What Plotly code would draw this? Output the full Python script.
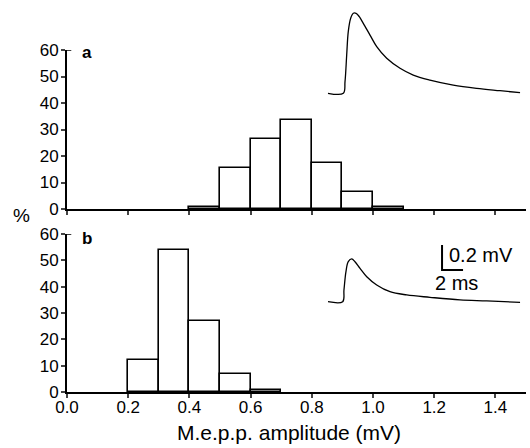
import plotly.graph_objects as go

# Histogram data (bin left edges in mV, % of events)
bin_left_a = [0.4, 0.5, 0.6, 0.7, 0.8, 0.9, 1.0]
pct_a = [0.8, 15.5, 26.3, 33.5, 17.3, 6.3, 0.8]
bin_left_b = [0.2, 0.3, 0.4, 0.5, 0.6]
pct_b = [12, 54, 27, 7, 0.8]
bin_width = 0.1
x_ticks = [0.0, 0.2, 0.4, 0.6, 0.8, 1.0, 1.2, 1.4]
y_ticks = [0, 10, 20, 30, 40, 50, 60]

# Inset m.e.p.p. traces (time in ms, amplitude in mV)
t_a = [0, 1.46, 1.62, 1.78, 1.93, 2.16, 2.41, 2.67, 2.98, 3.36, 4.0, 4.64, 5.59, 6.86, 8.12, 9.71, 11.93, 14.16, 16.38, 18.29]
v_a = [0, 0, 0.093, 0.306, 0.493, 0.6, 0.64, 0.64, 0.613, 0.56, 0.466, 0.373, 0.28, 0.2, 0.146, 0.106, 0.066, 0.04, 0.021, 0.005]
t_b = [0, 1.4, 1.52, 1.71, 1.93, 2.26, 2.57, 3.05, 3.69, 4.64, 5.9, 7.5, 9.71, 12.57, 15.11, 18.29]
v_b = [0, 0, 0.094, 0.24, 0.32, 0.342, 0.32, 0.267, 0.2, 0.134, 0.08, 0.054, 0.035, 0.014, 0.006, -0.005]
scale_t = 2.0   # ms
scale_v = 0.2   # mV

FONT = "Liberation Sans, Arial, Helvetica, sans-serif"
fig = go.Figure()

bar_style = dict(marker=dict(color="white", line=dict(color="black", width=1.6)),
                 width=bin_width, offset=0, showlegend=False, hoverinfo="skip")
fig.add_trace(go.Bar(x=bin_left_a, y=pct_a, xaxis="x", yaxis="y", **bar_style))
fig.add_trace(go.Bar(x=bin_left_b, y=pct_b, xaxis="x2", yaxis="y2", **bar_style))

line_style = dict(mode="lines", line=dict(color="black", width=1.3, shape="spline"),
                  showlegend=False, hoverinfo="skip")
fig.add_trace(go.Scatter(x=t_a, y=v_a, xaxis="x3", yaxis="y3", **line_style))
fig.add_trace(go.Scatter(x=t_b, y=v_b, xaxis="x4", yaxis="y4", **line_style))

# scale bar (in bottom inset coordinates)
sb_t0, sb_v0 = 10.86, 0.254
fig.add_trace(go.Scatter(x=[sb_t0, sb_t0, sb_t0 + scale_t], y=[sb_v0 + scale_v, sb_v0, sb_v0],
                         mode="lines", line=dict(color="black", width=2),
                         xaxis="x4", yaxis="y4", showlegend=False, hoverinfo="skip"))

tickfont = dict(family=FONT, size=17, color="black")
xcommon = dict(range=[0, 1.5], tickvals=x_ticks, ticks="outside", ticklen=4, tickwidth=1.5,
               showline=True, linewidth=2, linecolor="black", showgrid=False, zeroline=False,
               tickfont=tickfont, tickformat=".1f", automargin=False)
ycommon = dict(range=[0, 60], tickvals=y_ticks, ticks="outside", ticklen=4, tickwidth=1.5,
               showline=True, linewidth=2, linecolor="black", showgrid=False, zeroline=False,
               tickfont=tickfont, ticklabelstandoff=-1, automargin=False)
hidden = dict(visible=False, showgrid=False, zeroline=False)

fig.update_layout(
    width=530, height=448,
    margin=dict(l=67, r=4, t=2, b=56, autoexpand=False),
    paper_bgcolor="white", plot_bgcolor="white",
    bargap=0,
    xaxis=dict(domain=[0, 1], anchor="y", showticklabels=False, **xcommon),
    yaxis=dict(domain=[0.4692, 0.8769], anchor="x", **ycommon),
    xaxis2=dict(domain=[0, 1], anchor="y2", ticklabelstandoff=-5, **xcommon),
    yaxis2=dict(domain=[0, 0.4051], anchor="x2", **ycommon),
    xaxis3=dict(domain=[0.5512, 0.9978], anchor="y3", range=[-0.762, 18.76], **hidden),
    yaxis3=dict(domain=[0.7487, 0.9923], anchor="x3", range=[-0.0536, 0.7064], **hidden),
    xaxis4=dict(domain=[0.5512, 0.9978], anchor="y4", range=[-0.762, 18.76], **hidden),
    yaxis4=dict(domain=[0.2103, 0.3897], anchor="x4", range=[-0.0664, 0.4936], **hidden),
    font=dict(family=FONT, color="black"),
    shapes=[
        dict(type="line", xref="x", yref="y", x0=0, x1=0.014, y0=60, y1=60,
             line=dict(color="black", width=1.5)),
        dict(type="line", xref="x2", yref="y2", x0=0, x1=0.014, y0=60, y1=60,
             line=dict(color="black", width=1.5)),
    ],
)

ann = [
    dict(text="<b>a</b>", x=0.064, y=0.985, xref="x", yref="y domain", showarrow=False,
         font=dict(size=17, family=FONT), xanchor="center", yanchor="middle"),
    dict(text="<b>b</b>", x=0.066, y=0.97, xref="x2", yref="y2 domain", showarrow=False,
         font=dict(size=17, family=FONT), xanchor="center", yanchor="middle"),
    dict(text="%", x=-0.1, y=(392 - 215) / 390, xref="paper", yref="paper", showarrow=False,
         font=dict(size=19, family=FONT), xanchor="center", yanchor="middle"),
    dict(text="0.2 mV", x=11.3, y=0.374, xref="x4", yref="y4", showarrow=False,
         font=dict(size=20, family=FONT), xanchor="left", yanchor="middle"),
    dict(text="2 ms", x=12.19, y=0.15, xref="x4", yref="y4", showarrow=False,
         font=dict(size=20, family=FONT), xanchor="center", yanchor="middle"),
    dict(text="M.e.p.p. amplitude (mV)", x=0.4837, y=(392 - 432) / 390, xref="paper", yref="paper",
         showarrow=False, font=dict(size=21, family=FONT), xanchor="center", yanchor="middle"),
]
fig.update_layout(annotations=ann)

fig.write_html("out.html", config={"displayModeBar": False},
               post_script="document.body.style.margin='0';")
